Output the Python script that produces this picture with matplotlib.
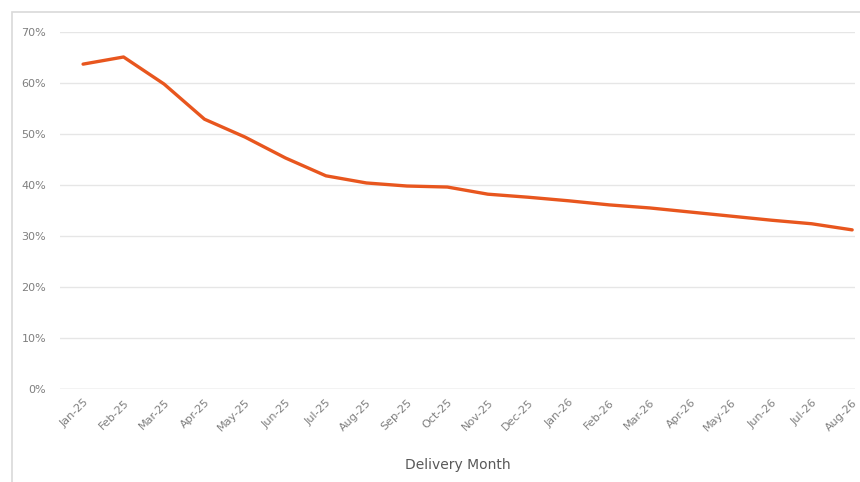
import matplotlib.pyplot as plt
from matplotlib.patches import Rectangle
from matplotlib.ticker import PercentFormatter

# Data
MONTHS = ["Jan-25", "Feb-25", "Mar-25", "Apr-25", "May-25", "Jun-25", "Jul-25",
          "Aug-25", "Sep-25", "Oct-25", "Nov-25", "Dec-25", "Jan-26", "Feb-26",
          "Mar-26", "Apr-26", "May-26", "Jun-26", "Jul-26", "Aug-26"]
SHARE = [63.7, 65.1, 59.8, 52.9, 49.4, 45.3, 41.8, 40.4, 39.8, 39.6,
         38.2, 37.6, 36.9, 36.1, 35.5, 34.7, 33.9, 33.1, 32.4, 31.2]

LINE_COLOR = "#E8561E"
TEXT_COLOR = "#7f7f7f"

fig = plt.figure(figsize=(8.6, 4.82), dpi=100)

# light chart-area frame
fig.patches.append(Rectangle((12 / 860, -0.05), 1.1, (482 - 12) / 482 + 0.05,
                             transform=fig.transFigure, fill=False,
                             edgecolor="#d9d9d9", linewidth=1.2))

ax = fig.add_axes([60 / 860, 93 / 482, 795 / 860, 357 / 482])

x = list(range(len(MONTHS)))
ax.plot(x, SHARE, color=LINE_COLOR, linewidth=2.4, solid_capstyle="round")

ax.set_ylim(0, 70)
ax.set_yticks(range(0, 71, 10))
ax.yaxis.set_major_formatter(PercentFormatter(decimals=0))
ax.set_xlim(-0.57, 19.07)
ax.set_xticks(x)
ax.set_xticklabels(MONTHS, rotation=45, ha="right", rotation_mode="anchor")

ax.grid(axis="y", color="#e6e6e6", linewidth=1)
ax.axhline(0, color="#d9d9d9", linewidth=1)
ax.set_axisbelow(True)
for s in ax.spines.values():
    s.set_visible(False)
ax.tick_params(length=0, labelsize=8, colors=TEXT_COLOR)
ax.tick_params(axis="y", pad=10)
ax.tick_params(axis="x", pad=6)

ax.set_xlabel("Delivery Month", fontsize=10, color="#595959", labelpad=18)

fig.savefig("out.png", dpi=100)
